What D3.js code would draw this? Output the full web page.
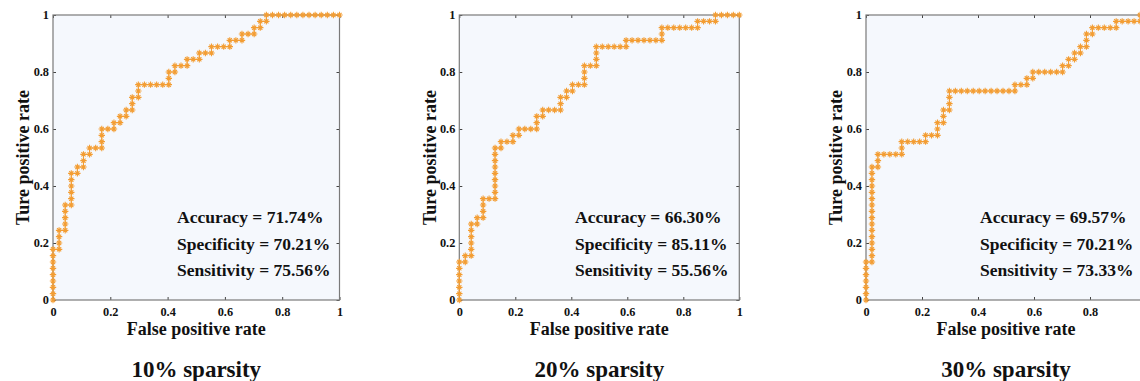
<!DOCTYPE html>
<html>
<head>
<meta charset="utf-8">
<script src="https://cdn.jsdelivr.net/npm/d3@7"></script>
<style>
  html, body { margin: 0; padding: 0; background: #fff; }
  svg { display: block; font-family: 'Liberation Serif', 'Times New Roman', serif; font-weight: bold; }
</style>
</head>
<body>
<svg id="chart" width="1140" height="381"></svg>
<script>
// ROC curves, 47 negatives / 45 positives per run
const N_NEG = 47
const N_POS = 45

const titles = ['10% sparsity', '20% sparsity', '30% sparsity']
const accuracy = ['71.74%', '66.30%', '69.57%']
const specificity = ['70.21%', '85.11%', '70.21%']
const sensitivity = ['75.56%', '55.56%', '73.33%']

const tickValues = [0, 0.2, 0.4, 0.6, 0.8, 1]
const tickLabels = ['0', '0.2', '0.4', '0.6', '0.8', '1']

// false positive / true positive counts at every threshold
const fp10 = [0,0,0,0,0,0,0,0,0, 1,1,1,1, 2,2,2,2,2, 3,3,3,3,3,3, 4,4, 5,5,5, 6,6,
  7,8,8,8,8, 9,10,10, 11,11, 12,12, 13,13,13, 14,14,14, 15,16,17,18,19,19,19, 20,20,
  21,22,22, 23,24,24, 25,26,26, 27,28,29,29, 30,31,31, 32,33,33, 34,34, 35,35,
  36,37,38,39,40,41,42,43,44,45,46,47]
const tp10 = [0,1,2,3,4,5,6,7,8, 8,9,10,11, 11,12,13,14,15, 15,16,17,18,19,20, 20,21, 21,22,23, 23,24,
  24,24,25,26,27, 27,27,28, 28,29, 29,30, 30,31,32, 32,33,34, 34,34,34,34,34,35,36, 36,37,
  37,37,38, 38,38,39, 39,39,40, 40,40,40,41, 41,41,42, 42,42,43, 43,44, 44,45,
  45,45,45,45,45,45,45,45,45,45,45,45]

const fp20 = [0,0,0,0,0,0,0, 1,1, 2,2,2,2,2,2, 3,3, 4,4,4,4, 5,6,6,6,6,6,6,6,6,6, 7,7,
  8,9,9, 10,10, 11,12,13,13,13, 14,14, 15,16,17,17,17, 18,18, 19,19, 20,21,21,21,21,
  22,23,23,23,23, 24,25,26,27,28,28, 29,30,31,32,33,34,34,34, 35,36,37,38,39,40,40,
  41,42,43,43, 44,45,46,47]
const tp20 = [0,1,2,3,4,5,6, 6,7, 7,8,9,10,11,12, 12,13, 13,14,15,16, 16,16,17,18,19,20,21,22,23,24, 24,25,
  25,25,26, 26,27, 27,27,27,28,29, 29,30, 30,30,30,31,32, 32,33, 33,34, 34,34,35,36,37,
  37,37,38,39,40, 40,40,40,40,40,41, 41,41,41,41,41,41,42,43, 43,43,43,43,43,43,44,
  44,44,44,45, 45,45,45,45]

const fp30 = [0,0,0,0,0,0,0, 1,1,1,1,1,1,1,1,1,1,1,1,1,1,1,1, 2,2,2, 3,4,5,6,6,6,
  7,8,9,10,10, 11,12,12,12, 13,13,13, 14,14,14,14, 15,16,17,18,19,20,21,22,23,24,25,25,
  26,27,27, 28,28, 29,30,31,32,33,33, 34,34, 35,35, 36,36, 37,37,37, 38,38,
  39,40,41,42,42, 43,44,45,46,46, 47]
const tp30 = [0,1,2,3,4,5,6, 6,7,8,9,10,11,12,13,14,15,16,17,18,19,20,21, 21,22,23, 23,23,23,23,24,25,
  25,25,25,25,26, 26,26,27,28, 28,29,30, 30,31,32,33, 33,33,33,33,33,33,33,33,33,33,33,34,
  34,34,35, 35,36, 36,36,36,36,36,37, 37,38, 38,39, 39,40, 40,41,42, 42,43,
  43,43,43,43,44, 44,44,44,44,45, 45]

const rocFp = [fp10, fp20, fp30]
const rocTp = [tp10, tp20, tp30]

const WIDTH = 1140
const TOP = 15
const BOTTOM = 300
const PANELS = [
  { x0: 53, x1: 339.5, statsX: 177 },
  { x0: 459.3, x1: 739.3, statsX: 575 },
  { x0: 866, x1: 1146, statsX: 980 }
]
const LINE_COLOR = '#f39d33'
const AXIS_COLOR = '#7a7a7a'
const TICK_LEN = 3

let svg = d3.select('#chart')

let plotPanel = function (i) {
  let p = PANELS[i]
  let xScale = d3.scaleLinear().domain([0, 1]).range([p.x0, p.x1])
  let yScale = d3.scaleLinear().domain([0, 1]).range([BOTTOM, TOP])
  let g = svg.append('g').classed('panel', true)

  g.append('rect')
    .attr('x', p.x0).attr('y', TOP)
    .attr('width', p.x1 - p.x0).attr('height', BOTTOM - TOP)
    .attr('fill', '#f5f8fd')

  let fmt = (d) => tickLabels[tickValues.indexOf(d)]
  let styleAxis = function (sel) {
    sel.select('.domain').remove()
    sel.selectAll('.tick line').attr('stroke', '#444').attr('stroke-width', 1)
    sel.selectAll('.tick text')
      .attr('fill', '#111')
      .style('font-family', "'Liberation Serif', 'Times New Roman', serif")
      .style('font-weight', 'bold')
      .style('font-size', '12.3px')
  }
  // x ticks that fall past the page edge are cut off in the source too
  let xTicks = tickValues.filter((v) => xScale(v) < WIDTH - 3)
  g.append('g').attr('transform', `translate(0,${BOTTOM})`)
    .call(d3.axisBottom(xScale).tickValues(xTicks).tickFormat(fmt).tickSizeInner(-TICK_LEN).tickSizeOuter(0).tickPadding(7))
    .call(styleAxis)
  g.append('g').attr('transform', `translate(0,${TOP})`)
    .call(d3.axisTop(xScale).tickValues(xTicks).tickFormat('').tickSizeInner(-TICK_LEN).tickSizeOuter(0))
    .call(styleAxis)
  g.append('g').attr('transform', `translate(${p.x0},0)`)
    .call(d3.axisLeft(yScale).tickValues(tickValues).tickFormat(fmt).tickSizeInner(-TICK_LEN).tickSizeOuter(0).tickPadding(4))
    .call(styleAxis)
  g.append('g').attr('transform', `translate(${p.x1},0)`)
    .call(d3.axisRight(yScale).tickValues(tickValues).tickFormat('').tickSizeInner(-TICK_LEN).tickSizeOuter(0))
    .call(styleAxis)

  g.append('rect')
    .attr('x', p.x0).attr('y', TOP)
    .attr('width', p.x1 - p.x0).attr('height', BOTTOM - TOP)
    .attr('fill', 'none').attr('stroke', AXIS_COLOR).attr('stroke-width', 1.2)

  // roc staircase
  let pts = rocFp[i].map((f, k) => [xScale(f / N_NEG), yScale(rocTp[i][k] / N_POS)])
  let lineGenerator = d3.line().curve(d3.curveLinear)
  g.append('path')
    .attr('d', lineGenerator(pts))
    .attr('fill', 'none')
    .attr('stroke', LINE_COLOR)
    .attr('stroke-width', 1)
  g.selectAll('.mark').data(pts).enter()
    .append('path')
    .classed('mark', true)
    .attr('transform', (d) => `translate(${d[0]},${d[1]})`)
    .attr('d', 'M-3.2,0H3.2M0,-3.2V3.2M-2.1,-2.1L2.1,2.1M-2.1,2.1L2.1,-2.1')
    .attr('fill', 'none')
    .attr('stroke', LINE_COLOR)
    .attr('stroke-width', 1.1)

  // labels
  let cx = (p.x0 + p.x1) / 2
  g.append('text')
    .attr('transform', `translate(${p.x0 - 30},${(TOP + BOTTOM) / 2}) rotate(-90)`)
    .attr('text-anchor', 'middle')
    .attr('dy', '0.35em')
    .style('font-size', '18px')
    .attr('fill', '#111')
    .text('Ture positive rate')
  g.append('text')
    .attr('x', cx).attr('y', 335)
    .attr('text-anchor', 'middle')
    .style('font-size', '18px')
    .attr('fill', '#111')
    .text('False positive rate')
  g.append('text')
    .attr('x', cx).attr('y', 377)
    .attr('text-anchor', 'middle')
    .style('font-size', '23px')
    .attr('fill', '#111')
    .text(titles[i])

  let stats = [`Accuracy = ${accuracy[i]}`, `Specificity = ${specificity[i]}`, `Sensitivity = ${sensitivity[i]}`]
  g.selectAll('.stat').data(stats).enter()
    .append('text')
    .classed('stat', true)
    .attr('x', p.statsX)
    .attr('y', (d, k) => 223 + k * 26.5)
    .style('font-size', '17.5px')
    .attr('fill', '#111')
    .text((d) => d)
}

PANELS.forEach((p, i) => plotPanel(i))
</script>
</body>
</html>
